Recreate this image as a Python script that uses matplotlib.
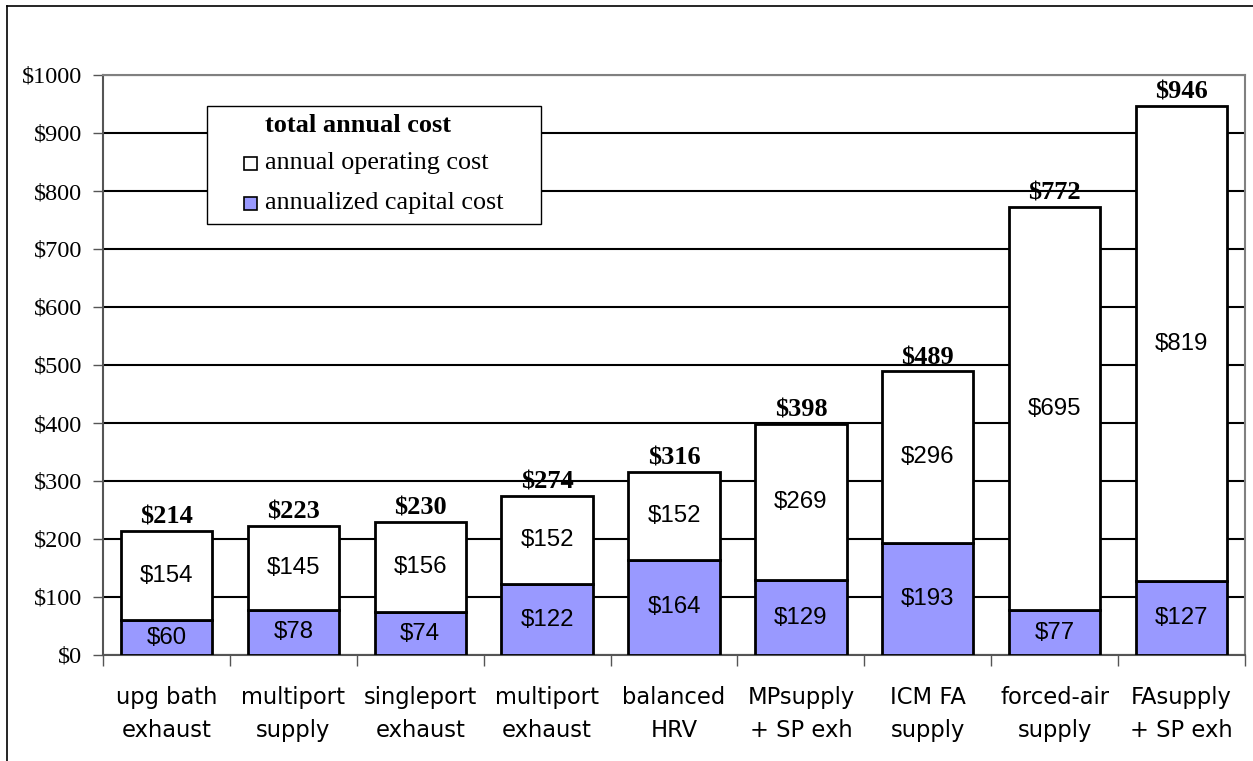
import matplotlib.pyplot as plt
from matplotlib.patches import Rectangle
from matplotlib.lines import Line2D

# Data
categories = ['upg bath\nexhaust', 'multiport\nsupply', 'singleport\nexhaust',
              'multiport\nexhaust', 'balanced\nHRV', 'MPsupply\n+ SP exh',
              'ICM FA\nsupply', 'forced-air\nsupply', 'FAsupply\n+ SP exh']
capital_cost = [60, 78, 74, 122, 164, 129, 193, 77, 127]
operating_cost = [154, 145, 156, 152, 152, 269, 296, 695, 819]
total_cost = [214, 223, 230, 274, 316, 398, 489, 772, 946]
y_ticks = [0, 100, 200, 300, 400, 500, 600, 700, 800, 900, 1000]

serif = 'Liberation Serif'
sans = 'Liberation Sans'
capital_color = '#9999ff'

fig = plt.figure(figsize=(12.53, 7.61), dpi=100)
ax = fig.add_axes([103 / 1253, 106 / 761, 1142 / 1253, 580 / 761])

# outer chart frame (left and top edges visible)
fig.add_artist(Line2D([7 / 1253, 7 / 1253], [0, 1 - 6 / 761], color='black', lw=1.2,
                      transform=fig.transFigure))
fig.add_artist(Line2D([7 / 1253, 1], [1 - 6 / 761, 1 - 6 / 761], color='black', lw=1.2,
                      transform=fig.transFigure))

x = list(range(len(categories)))
width = 0.72
ax.bar(x, capital_cost, width, color=capital_color, edgecolor='black', linewidth=2, zorder=3)
ax.bar(x, operating_cost, width, bottom=capital_cost, color='white',
       edgecolor='black', linewidth=2, zorder=3)

for i in x:
    ax.text(i, capital_cost[i] / 2, '$%d' % capital_cost[i], ha='center', va='center',
            fontsize=17.3, family=sans, zorder=4)
    ax.text(i, capital_cost[i] + operating_cost[i] / 2, '$%d' % operating_cost[i],
            ha='center', va='center', fontsize=17.3, family=sans, zorder=4)
    ax.text(i, total_cost[i] + 4, '$%d' % total_cost[i], ha='center', va='bottom',
            fontsize=19, family=serif, fontweight='bold', zorder=4)

ax.set_xlim(-0.5, len(categories) - 0.5)
ax.set_ylim(0, 1000)
ax.set_yticks(y_ticks)
ax.set_yticklabels(['$%d' % v for v in y_ticks], family=serif, fontsize=17.5)
ax.yaxis.grid(True, color='black', linewidth=1.5, zorder=0)
ax.set_axisbelow(True)

# category ticks between bars, labels centred under bars
ax.set_xticks([i - 0.5 for i in x] + [len(categories) - 0.5])
ax.set_xticklabels([])
ax.set_xticks(x, minor=True)
ax.set_xticklabels(categories, minor=True, family='DejaVu Sans', fontsize=16.3, linespacing=1.6)
ax.tick_params(axis='x', which='minor', length=0, pad=22)
ax.tick_params(axis='x', which='major', length=8, width=1, color='#555555')
ax.tick_params(axis='y', length=7, width=1, color='#555555', pad=8)

for side in ['top', 'right']:
    ax.spines[side].set_color('#808080')
    ax.spines[side].set_linewidth(1.5)
for side in ['left', 'bottom']:
    ax.spines[side].set_color('#555555')
    ax.spines[side].set_linewidth(1.5)


# legend box drawn by hand (pixel positions -> axes fraction)
def px(xp, yp):
    return (xp - 103) / 1142, (655 - yp) / 580


tr = ax.transAxes
x0, y0 = px(207, 224)
x1, y1 = px(541, 106)
ax.add_patch(Rectangle((x0, y0), x1 - x0, y1 - y0, transform=tr, facecolor='white',
                       edgecolor='black', lw=1.0, zorder=6))
tx, ty = px(265, 125)
ax.text(tx, ty, 'total annual cost', transform=tr, family=serif, fontsize=19,
        fontweight='bold', va='center', ha='left', zorder=7)
legend_labels = ['annual operating cost', 'annualized capital cost']
legend_colors = ['white', capital_color]
for label, color, yc in zip(legend_labels, legend_colors, [163, 203]):
    sx, sy = px(244, yc + 7)
    ex, ey = px(257, yc - 6)
    ax.add_patch(Rectangle((sx, sy), ex - sx, ey - sy, transform=tr, facecolor=color,
                           edgecolor='black', lw=1.2, zorder=7))
    lx, ly = px(265, yc)
    ax.text(lx, ly, label, transform=tr, family=serif, fontsize=18.8,
            va='center', ha='left', zorder=7)

fig.savefig('out.png', dpi=100)
